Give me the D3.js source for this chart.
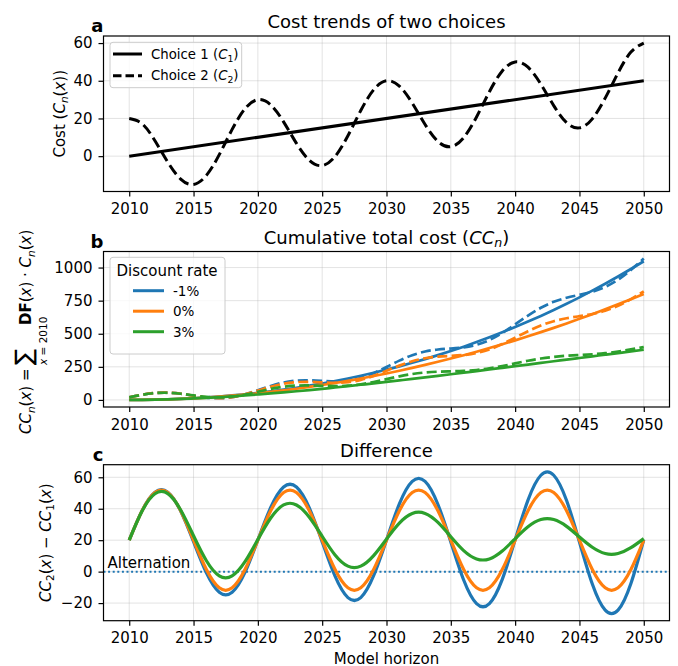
<!DOCTYPE html>
<html>
<head>
<meta charset="utf-8">
<script src="https://cdn.jsdelivr.net/npm/d3@7"></script>
<style>
  body { margin: 0; background: #fff; }
  svg { display: block; }
  text { font-family: "DejaVu Sans", sans-serif; fill: #000; white-space: pre; }
</style>
</head>
<body>
<svg id="fig" width="678" height="666"></svg>
<script>
// ---------------- data ----------------
const years = [2010, 2011, 2012, 2013, 2014, 2015, 2016, 2017, 2018, 2019,
               2020, 2021, 2022, 2023, 2024, 2025, 2026, 2027, 2028, 2029,
               2030, 2031, 2032, 2033, 2034, 2035, 2036, 2037, 2038, 2039,
               2040, 2041, 2042, 2043, 2044, 2045, 2046, 2047, 2048, 2049, 2050];
const xTicks = [2010, 2015, 2020, 2025, 2030, 2035, 2040, 2045, 2050];

// Panel a: yearly cost of each choice
const choice1Years = [2010, 2050];
const choice1Cost = [0, 40];
const choice2Cost = [20, 17.2, 8.2, -3.2, -12.2, -15, -10.2, 0.8, 14.2, 25.2,
                     30, 27.2, 18.2, 6.8, -2.2, -5, -0.2, 10.8, 24.2, 35.2,
                     40, 37.2, 28.2, 16.8, 7.8, 5, 9.8, 20.8, 34.2, 45.2,
                     50, 47.2, 38.2, 26.8, 17.8, 15, 19.8, 30.8, 44.2, 55.2, 60];
const costTicks = [0, 20, 40, 60];

// Panel b: cumulative discounted cost of choice 1, per discount rate
const rateLabels = ["-1%", "0%", "3%"];
const rateColors = ["#1f77b4", "#ff7f0e", "#2ca02c"];
const cumChoice1Neg1 = [0, 0.5, 2.0, 4.6, 8.2, 12.9, 18.7, 25.7, 33.8, 43.0,
                        53.4, 65.1, 78.0, 92.2, 107.6, 124.4, 142.4, 161.9, 182.7, 205.0,
                        228.6, 253.8, 280.4, 308.5, 338.2, 369.5, 402.4, 436.9, 473.0, 510.9,
                        550.4, 591.8, 634.8, 679.8, 726.5, 775.1, 825.7, 878.1, 932.6, 989.1, 1047.6];
const cumChoice1Zero = [0, 0.5, 2, 4.5, 8, 12.5, 18, 24.5, 32, 40.5,
                        50, 60.5, 72, 84.5, 98, 112.5, 128, 144.5, 162, 180.5,
                        200, 220.5, 242, 264.5, 288, 312.5, 338, 364.5, 392, 420.5,
                        450, 480.5, 512, 544.5, 578, 612.5, 648, 684.5, 722, 760.5, 800];
const cumChoice1Three = [0, 0.5, 1.9, 4.2, 7.4, 11.3, 16.0, 21.4, 27.4, 34.0,
                         41.2, 48.9, 57.0, 65.7, 74.7, 84.2, 94.0, 104.1, 114.6, 125.3,
                         136.2, 147.4, 158.8, 170.4, 182.1, 194.0, 206.0, 218.1, 230.3, 242.6,
                         254.9, 267.3, 279.7, 292.1, 304.6, 317.0, 329.4, 341.8, 354.2, 366.6, 378.9];
const cumTicks = [0, 250, 500, 750, 1000];

// Panel c: CC2 - CC1, per discount rate
const diffNeg1 = [20, 38.8, 50.5, 50.5, 38.5, 19.0, -0.8, -13.1, -13.1, -0.5,
                  20.1, 40.8, 53.8, 53.8, 40.5, 18.9, -2.9, -16.5, -16.5, -2.6,
                  20.1, 43.1, 57.4, 57.4, 42.7, 18.9, -5.3, -20.3, -20.3, -4.9,
                  20.2, 45.5, 61.3, 61.3, 45.2, 18.8, -7.9, -24.5, -24.5, -7.5, 20.3];
const diffZero = [20, 38.7, 50.3, 50.3, 38.7, 20, 1.3, -10.3, -10.3, 1.3,
                  20, 38.7, 50.3, 50.3, 38.7, 20, 1.3, -10.3, -10.3, 1.3,
                  20, 38.7, 50.3, 50.3, 38.7, 20, 1.3, -10.3, -10.3, 1.3,
                  20, 38.7, 50.3, 50.3, 38.7, 20, 1.3, -10.3, -10.3, 1.3, 20];
const diffThree = [20, 38.5, 49.5, 49.6, 39.2, 22.8, 6.9, -2.7, -2.7, 6.3,
                   20.4, 34.1, 42.4, 42.4, 34.6, 22.5, 10.6, 3.5, 3.5, 10.2,
                   20.7, 30.9, 37.0, 37.0, 31.3, 22.2, 13.4, 8.1, 8.1, 13.1,
                   20.9, 28.5, 33.1, 33.1, 28.8, 22.0, 15.5, 11.5, 11.5, 15.2, 21.0];
const diffTicks = [-20, 0, 20, 40, 60];

const cumChoice1 = [cumChoice1Neg1, cumChoice1Zero, cumChoice1Three];
const diffs = [diffNeg1, diffZero, diffThree];
// CC2 is CC1 plus the difference plotted in panel c
const cumChoice2 = cumChoice1.map((cc, r) => cc.map((v, i) => v + diffs[r][i]));

// ---------------- layout helpers ----------------
const svg = d3.select("#fig");
const LEFT = 103.5, RIGHT = 669.5;
const x = d3.scaleLinear().domain([2008, 2052]).range([LEFT, RIGHT]);
const minus = d => (d < 0 ? "\u2212" + Math.abs(d) : String(d));

// text with italic / bold / subscript runs
function rich(parent, px, py, parts, size, anchor) {
  const t = parent.append("text").attr("x", px).attr("y", py)
    .style("font-size", size + "px").attr("text-anchor", anchor || "start");
  let shift = 0;
  parts.forEach(([s, f]) => {
    const sp = t.append("tspan").text(s);
    const sub = f.includes("s");
    const target = sub ? size * 0.22 : 0;
    if (target !== shift) { sp.attr("dy", target - shift); shift = target; }
    if (sub) sp.style("font-size", (size * 0.7) + "px");
    if (f.includes("i")) sp.style("font-style", "italic");
    if (f.includes("b")) sp.style("font-weight", "bold");
  });
  return t;
}

function makePanel(top, bottom, yDomain, yTicks) {
  const y = d3.scaleLinear().domain(yDomain).range([bottom, top]);
  const g = svg.append("g");
  const grid = g.append("g");
  grid.selectAll(".gx").data(xTicks).join("line")
    .attr("x1", d => x(d)).attr("x2", d => x(d)).attr("y1", top).attr("y2", bottom)
    .attr("stroke", "#b0b0b0").attr("stroke-opacity", 0.35).attr("stroke-width", 1);
  grid.selectAll(".gy").data(yTicks).join("line")
    .attr("x1", LEFT).attr("x2", RIGHT).attr("y1", d => y(d)).attr("y2", d => y(d))
    .attr("stroke", "#b0b0b0").attr("stroke-opacity", 0.35).attr("stroke-width", 1);
  const plot = g.append("g");
  const frame = g.append("g");
  const xa = frame.append("g").attr("transform", `translate(0,${bottom})`)
    .call(d3.axisBottom(x).tickValues(xTicks).tickFormat(d3.format("d")).tickSize(5).tickPadding(7));
  const ya = frame.append("g").attr("transform", `translate(${LEFT},0)`)
    .call(d3.axisLeft(y).tickValues(yTicks).tickFormat(minus).tickSize(5).tickPadding(6));
  [xa, ya].forEach(a => {
    a.select(".domain").remove();
    a.selectAll("line").attr("stroke", "#000").attr("stroke-width", 1.2);
    a.selectAll("text").attr("font-family", null).attr("font-size", null)
      .style("font-size", "15px").attr("fill", "#000");
  });
  frame.append("rect").attr("x", LEFT).attr("y", top)
    .attr("width", RIGHT - LEFT).attr("height", bottom - top)
    .attr("fill", "none").attr("stroke", "#000").attr("stroke-width", 1.2);
  return { y, plot, top, bottom };
}

function letter(s, top) {
  svg.append("text").attr("x", LEFT).attr("y", top - 4).attr("text-anchor", "end")
    .style("font-size", "18px").style("font-weight", "bold").text(s);
}

// ---------------- panel a ----------------
const pa = makePanel(36, 191.5, [-18.75, 63.75], costTicks);
pa.plot.append("path")
  .attr("d", d3.line().x(d => x(d[0])).y(d => pa.y(d[1]))(choice1Years.map((yr, i) => [yr, choice1Cost[i]])))
  .attr("fill", "none").attr("stroke", "#000").attr("stroke-width", 3);
pa.plot.append("path")
  .attr("d", d3.line().curve(d3.curveNatural).x((d, i) => x(years[i])).y(d => pa.y(d))(choice2Cost))
  .attr("fill", "none").attr("stroke", "#000").attr("stroke-width", 3)
  .attr("stroke-dasharray", "11,5");
svg.append("text").attr("x", (LEFT + RIGHT) / 2).attr("y", 28).attr("text-anchor", "middle")
  .style("font-size", "18px").text("Cost trends of two choices");
letter("a", 36);
{
  const g = svg.append("g").attr("transform", "translate(64.5,113.75) rotate(-90)");
  rich(g, 0, 0, [["Cost (", ""], ["C", "i"], ["n", "si"], ["(", ""], ["x", "i"], ["))", ""]], 15, "middle");
}
// legend a
{
  const lg = svg.append("g");
  lg.append("rect").attr("x", 110).attr("y", 42.3).attr("width", 131.7).attr("height", 45.4)
    .attr("rx", 3).attr("fill", "#fff").attr("fill-opacity", 0.8)
    .attr("stroke", "#cccccc").attr("stroke-width", 1);
  const rows = [{ y: 54, dash: null, label: "1" }, { y: 75.7, dash: "8.5,4", label: "2" }];
  rows.forEach(r => {
    lg.append("line").attr("x1", 113).attr("x2", 142).attr("y1", r.y).attr("y2", r.y)
      .attr("stroke", "#000").attr("stroke-width", 3).attr("stroke-dasharray", r.dash);
    rich(lg, 151, r.y + 4.7, [["Choice " + r.label + " (", ""], ["C", "i"], [r.label, "s"], [")", ""]], 13.3);
  });
}

// ---------------- panel b ----------------
const pb = makePanel(251.5, 407, [-53.4, 1121.3], cumTicks);
const lineB = d3.line().curve(d3.curveNatural).x((d, i) => x(years[i])).y(d => pb.y(d));
rateLabels.forEach((lab, r) => {
  pb.plot.append("path").attr("d", lineB(cumChoice1[r]))
    .attr("fill", "none").attr("stroke", rateColors[r]).attr("stroke-width", 2.7);
  pb.plot.append("path").attr("d", lineB(cumChoice2[r]))
    .attr("fill", "none").attr("stroke", rateColors[r]).attr("stroke-width", 2.7)
    .attr("stroke-dasharray", "10,4.3");
});
rich(svg, (LEFT + RIGHT) / 2, 243.5, [["Cumulative total cost (", ""], ["CC", "i"], ["n", "si"], [")", ""]], 18, "middle");
letter("b", 251.5);
{
  // local x runs up the page, local y runs to the right
  const g = svg.append("g").attr("transform", "translate(0,329) rotate(-90)");
  rich(g, -105, 31.3, [["CC", "i"], ["n", "si"], ["(", ""], ["x", "i"], [") =", ""]], 15);
  g.append("text").attr("x", -36).attr("y", 31.5).style("font-size", "24px").text("\u2211");
  rich(g, -36, 46.5, [["x", "i"], [" = 2010", ""]], 10.5);
  rich(g, 4, 31.3, [["DF", "b"], ["(", ""], ["x", "i"], [") \u00b7 ", ""], ["C", "i"], ["n", "si"], ["(", ""], ["x", "i"], [")", ""]], 15);
}
// legend b
{
  const lg = svg.append("g");
  lg.append("rect").attr("x", 110).attr("y", 257.3).attr("width", 115).attr("height", 96.7)
    .attr("rx", 3).attr("fill", "#fff").attr("fill-opacity", 0.8)
    .attr("stroke", "#cccccc").attr("stroke-width", 1);
  lg.append("text").attr("x", 116.5).attr("y", 275.8).style("font-size", "15px").text("Discount rate");
  const rowY = [290.7, 311.2, 331.7];
  rateLabels.forEach((lab, r) => {
    lg.append("line").attr("x1", 133).attr("x2", 164).attr("y1", rowY[r]).attr("y2", rowY[r])
      .attr("stroke", rateColors[r]).attr("stroke-width", 3);
    lg.append("text").attr("x", 173).attr("y", rowY[r] + 4.8).style("font-size", "13.5px").text(lab);
  });
}

// ---------------- panel c ----------------
const pc = makePanel(464.7, 620.7, [-31.2, 68], diffTicks);
pc.plot.append("line").attr("x1", LEFT).attr("x2", RIGHT).attr("y1", pc.y(0)).attr("y2", pc.y(0))
  .attr("stroke", "#1f77b4").attr("stroke-width", 2).attr("stroke-dasharray", "2,2.6");
const lineC = d3.line().curve(d3.curveNatural).x((d, i) => x(years[i])).y(d => pc.y(d));
diffs.forEach((arr, r) => {
  pc.plot.append("path").attr("d", lineC(arr))
    .attr("fill", "none").attr("stroke", rateColors[r]).attr("stroke-width", 3.2);
});
pc.plot.append("text").attr("x", 107.5).attr("y", 568).style("font-size", "15px").text("Alternation");
svg.append("text").attr("x", (LEFT + RIGHT) / 2).attr("y", 456.7).attr("text-anchor", "middle")
  .style("font-size", "18px").text("Difference");
letter("c", 464.7);
{
  const g = svg.append("g").attr("transform", "translate(51,542.7) rotate(-90)");
  rich(g, 0, 0, [["CC", "i"], ["2", "s"], ["(", ""], ["x", "i"], [") \u2212 ", ""], ["CC", "i"], ["1", "s"], ["(", ""], ["x", "i"], [")", ""]], 15, "middle");
}
svg.append("text").attr("x", (LEFT + RIGHT) / 2).attr("y", 663.5).attr("text-anchor", "middle")
  .style("font-size", "15px").text("Model horizon");
</script>
</body>
</html>
